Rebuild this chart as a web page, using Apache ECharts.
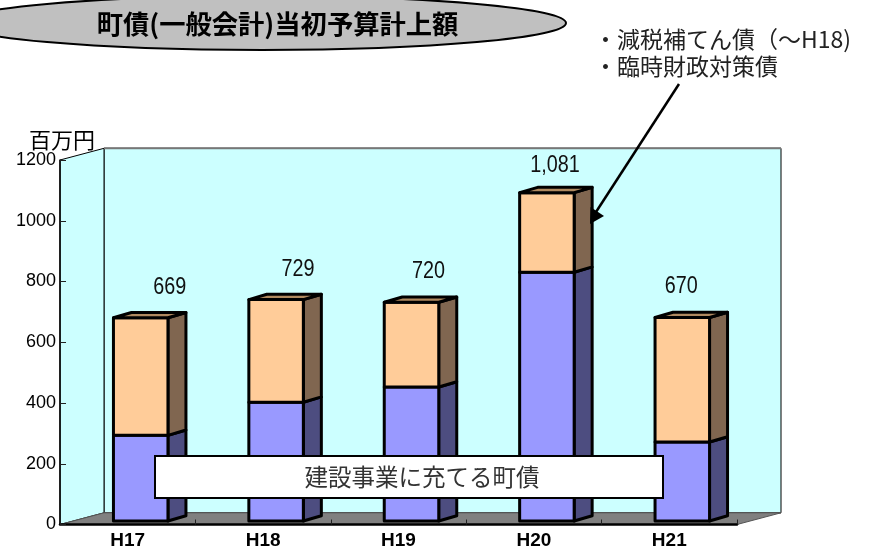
<!DOCTYPE html>
<html><head><meta charset="utf-8">
<style>html,body{margin:0;padding:0;background:#fff}#c{width:877px;height:552px}</style>
<script src="https://cdn.jsdelivr.net/npm/echarts@6/dist/echarts.min.js"></script>
</head><body><div id="c"></div>
<script>
const categories = ['H17','H18','H19','H20','H21'];
const constructionBonds = [282,391,441,819,260];
const otherBonds = [387,338,279,262,410];
const totals = [669,729,720,1081,670];
const totalLabels = ['669','729','720','1,081','670'];
const yTicks = [0,200,400,600,800,1000,1200];
const titleText = '町債(一般会計)当初予算計上額';
const unitText = '百万円';
const noteLines = ['・減税補てん債（～H18)','・臨時財政対策債'];
const boxText = '建設事業に充てる町債';

// layout constants
const L=60,R=737,T=160,B=524.5;
const WALL_DX=44,WALL_DY=-11.7;
const BAR_DX=13,BAR_DY=-3.5,BAR_W=54.5,SIDE_DX=18,SIDE_DY=-5.3;
const labelNudgeX=[29,22,17,8,-1],labelNudgeY=[-30.5,-30,-31,-27,-30.5];
const CJK='"Noto Sans CJK JP"';
const LINE={stroke:'#000',lineWidth:3,lineJoin:'round'};

function poly(points,fill,stroke){return {type:'polygon',shape:{points},style:Object.assign({fill},stroke||LINE)};}

function barSeries(name,base,values,front,side,top,showTop){
  return {type:'custom',name,z:5,clip:false,
    data:values.map((v,i)=>[i,base[i],base[i]+v]),
    encode:{x:0,y:[1,2]},
    renderItem(p,api){
      const a=api.coord([api.value(0),api.value(1)]),b=api.coord([api.value(0),api.value(2)]);
      const xl=a[0]+BAR_DX-BAR_W/2,xr=xl+BAR_W,y0=a[1]+BAR_DY,y1=b[1]+BAR_DY;
      const ch=[
        poly([[xr,y0],[xr+SIDE_DX,y0+SIDE_DY],[xr+SIDE_DX,y1+SIDE_DY],[xr,y1]],side),
        poly([[xl,y0],[xr,y0],[xr,y1],[xl,y1]],front)];
      if(showTop) ch.push(poly([[xl,y1],[xr,y1],[xr+SIDE_DX,y1+SIDE_DY],[xl+SIDE_DX,y1+SIDE_DY]],top));
      return {type:'group',children:ch};
    }};
}

const chart=echarts.init(document.getElementById('c'),null,{renderer:'canvas'});
chart.setOption({
  animation:false,backgroundColor:'#fff',
  grid:{left:L,top:T,width:R-L,height:B-T,containLabel:false},
  xAxis:{type:'category',data:categories,z:3,
    axisLine:{lineStyle:{color:'#000',width:2.5}},
    axisTick:{show:true,inside:true,length:5,alignWithLabel:false,lineStyle:{color:'#222',width:1}},
    axisLabel:{fontFamily:'"Liberation Sans"',fontWeight:'bold',fontSize:19,color:'#000',margin:7,interval:0}},
  yAxis:{type:'value',min:yTicks[0],max:yTicks[yTicks.length-1],interval:200,z:3,
    splitLine:{show:false},
    axisLine:{show:true,lineStyle:{color:'#000',width:1.5}},
    axisTick:{show:true,inside:true,length:6,lineStyle:{color:'#222',width:1}},
    axisLabel:{fontFamily:'"Liberation Sans"',fontSize:18,color:'#000',margin:4,formatter:v=>String(v)}},
  series:[
    {type:'custom',name:'frame',z:1,clip:false,silent:true,data:[[0,0]],
     renderItem(p,api){
       const t=api.coord([0,1200]);
       const x0=L,y0=B,y1=t[1];
       const bx=x0+WALL_DX,by0=y0+WALL_DY,by1=y1+WALL_DY,bxr=R+WALL_DX;
       const thin={stroke:'#000',lineWidth:1};
       return {type:'group',children:[
         poly([[bx,by1],[bxr,by1],[bxr,by0],[bx,by0]],'#ccffff',thin),
         poly([[x0,y1],[bx,by1],[bx,by0],[x0,y0]],'#ccffff',thin),
         poly([[x0,y0],[bx,by0],[bxr,by0],[R,y0]],'#808080',{stroke:'#555',lineWidth:1}),
         {type:'line',shape:{x1:bx,y1:by1,x2:bxr,y2:by1},style:{stroke:'#777',lineWidth:2}}
       ]};
     }},
    barSeries('建設事業に充てる町債',categories.map(()=>0),constructionBonds,'#9999ff','#4d4d80','#7a7acc',false),
    barSeries('減税補てん債・臨時財政対策債',constructionBonds,otherBonds,'#ffcc99','#806650','#b08a60',true),
    {type:'custom',name:'total',z:6,clip:false,silent:true,
     data:totals.map((v,i)=>[i,v]),encode:{x:0,y:1},
     renderItem(p,api){
       const i=api.value(0),c=api.coord([i,api.value(1)]);
       return {type:'text',x:c[0]+BAR_DX+labelNudgeX[i],y:c[1]+BAR_DY+labelNudgeY[i],scaleX:0.86,
         style:{text:totalLabels[i],x:0,y:0,fill:'#111',font:'23px "Liberation Sans"',align:'center',verticalAlign:'middle'}};
     }}
  ],
  graphic:[
    {type:'ellipse',z:10,shape:{cx:262,cy:23,rx:304,ry:27},style:{fill:'#c0c0c0',stroke:'#000',lineWidth:2}},
    {type:'text',z:11,style:{text:titleText,x:277.5,y:24,align:'center',verticalAlign:'middle',fill:'#000',font:'bold 26.3px '+CJK}},
    {type:'text',z:11,style:{text:unitText,x:62,y:140,align:'center',verticalAlign:'middle',fill:'#000',font:'22px '+CJK}},
    {type:'text',z:11,style:{text:noteLines[0],x:594,y:39,align:'left',verticalAlign:'middle',fill:'#222',font:'23px '+CJK}},
    {type:'text',z:11,style:{text:noteLines[1],x:594,y:66,align:'left',verticalAlign:'middle',fill:'#222',font:'23px '+CJK}},
    {type:'line',z:11,shape:{x1:679,y1:84,x2:596,y2:212},style:{stroke:'#000',lineWidth:2.5}},
    {type:'polygon',z:11,shape:{points:[[590,224],[590.5,207],[604,216]]},style:{fill:'#000'}},
    {type:'rect',z:12,shape:{x:155,y:456,width:508,height:42},style:{fill:'#fff',stroke:'#000',lineWidth:2}},
    {type:'text',z:13,style:{text:boxText,x:422,y:477,align:'center',verticalAlign:'middle',fill:'#333',font:'23.5px '+CJK}}
  ]
});
</script></body></html>
